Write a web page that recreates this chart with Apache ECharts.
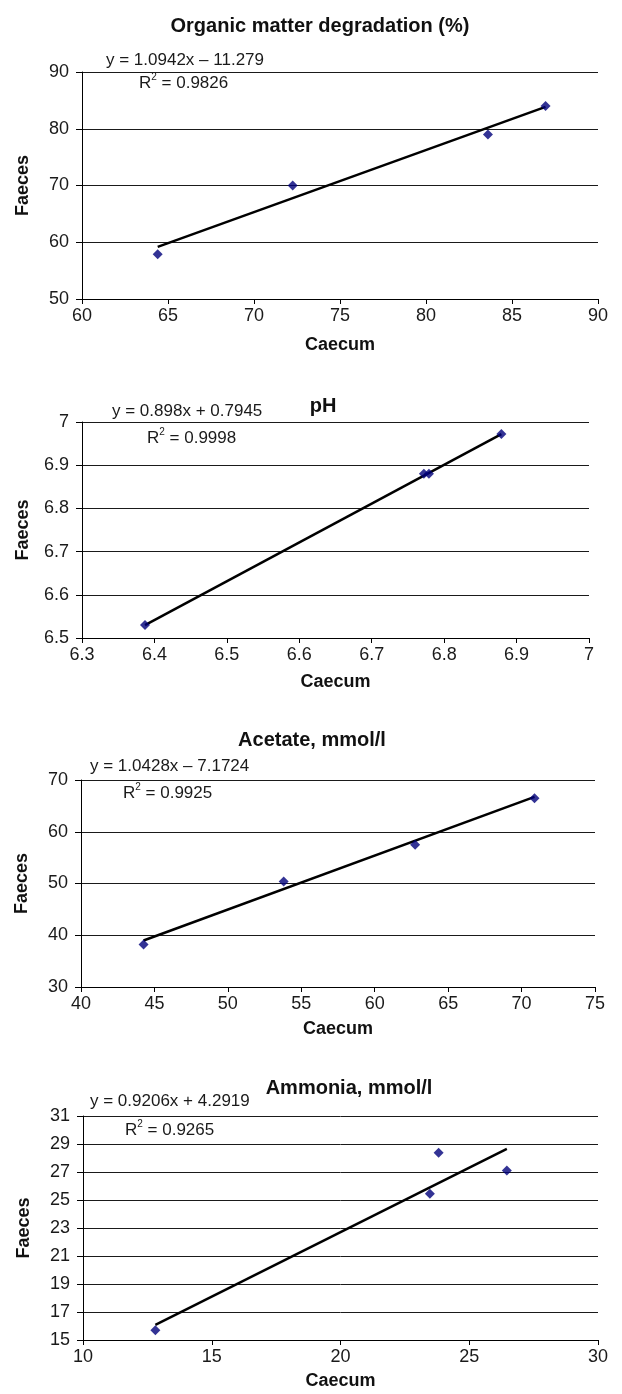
<!DOCTYPE html>
<html>
<head>
<meta charset="utf-8">
<script src="https://cdn.jsdelivr.net/npm/echarts@6/dist/echarts.min.js"></script>
<style>
html,body{margin:0;padding:0;background:#fff;}
#chart{width:622px;height:1394px;}
</style>
</head>
<body>
<div id="chart"></div>
<script>
// ---- Data ----
const titles = ['Organic matter degradation (%)', 'pH', 'Acetate, mmol/l', 'Ammonia, mmol/l'];
const omCaecum = [64.4, 72.25, 83.6, 86.95];
const omFaeces = [57.9, 70.0, 79.0, 84.0];
const phCaecum = [6.387, 6.772, 6.779, 6.879];
const phFaeces = [6.53, 6.88, 6.88, 6.972];
const acCaecum = [44.26, 53.8, 62.75, 70.88];
const acFaeces = [38.2, 50.4, 57.5, 66.45];
const amCaecum = [12.81, 23.47, 23.81, 26.46];
const amFaeces = [15.7, 25.44, 28.38, 27.1];
// trendline equations shown in the chart: y = slope * x + intercept
const slopes = [1.0942, 0.898, 1.0428, 0.9206];
const intercepts = [-11.279, 0.7945, -7.1724, 4.2919];
const equationLabels = ['y = 1.0942x \u2013 11.279', 'y = 0.898x + 0.7945', 'y = 1.0428x \u2013 7.1724', 'y = 0.9206x + 4.2919'];
const r2Values = ['0.9826', '0.9998', '0.9925', '0.9265'];
// axis ranges [min, max, interval]
const xRanges = [[60, 90, 5], [6.3, 7, 0.1], [40, 75, 5], [10, 30, 5]];
const yRanges = [[50, 90, 10], [6.5, 7, 0.1], [30, 70, 10], [15, 31, 2]];
const xAxisName = 'Caecum';
const yAxisName = 'Faeces';

// ---- Layout (positions only) ----
const FONT = '"Liberation Sans", Arial, sans-serif';
const grids = [
  {left: 82, top: 72, width: 516, height: 227},
  {left: 82, top: 422, width: 507, height: 216},
  {left: 81, top: 780, width: 514, height: 207},
  {left: 83, top: 1116, width: 515, height: 224}
];
const titlePos = [[315, 21], [318, 401], [307, 735], [344, 1083]];
const eqPos = [[106, 60], [112, 411], [90, 766], [90, 1101]];
const r2Pos = [[139, 82], [147, 437], [123, 792], [125, 1129]];
const xNameGap = [37, 35, 33, 32];

const xs = [omCaecum, phCaecum, acCaecum, amCaecum];
const ys = [omFaeces, phFaeces, acFaeces, amFaeces];

const option = {
  animation: false,
  backgroundColor: '#fff',
  textStyle: {fontFamily: FONT},
  title: [], grid: [], xAxis: [], yAxis: [], series: [], graphic: []
};

for (let i = 0; i < 4; i++) {
  option.title.push({
    text: titles[i], left: titlePos[i][0], top: titlePos[i][1],
    textAlign: 'center', textVerticalAlign: 'middle',
    textStyle: {fontFamily: FONT, fontSize: 20, fontWeight: 'bold', color: '#111'}
  });
  option.grid.push(Object.assign({containLabel: false}, grids[i]));
  option.xAxis.push({
    type: 'value', gridIndex: i,
    min: xRanges[i][0], max: xRanges[i][1], interval: xRanges[i][2],
    name: xAxisName, nameLocation: 'middle', nameGap: xNameGap[i],
    nameTextStyle: {fontFamily: FONT, fontSize: 18, fontWeight: 'bold', color: '#111'},
    axisLine: {show: true, onZero: false, lineStyle: {color: '#000', width: 1}},
    axisTick: {show: true, length: 5, lineStyle: {color: '#000'}},
    axisLabel: {fontFamily: FONT, fontSize: 18, color: '#1a1a1a', margin: 8},
    splitLine: {show: false}
  });
  option.yAxis.push({
    type: 'value', gridIndex: i,
    min: yRanges[i][0], max: yRanges[i][1], interval: yRanges[i][2],
    name: yAxisName, nameLocation: 'middle', nameRotate: 90, nameGap: 50,
    nameTextStyle: {fontFamily: FONT, fontSize: 18, fontWeight: 'bold', color: '#111'},
    axisLine: {show: true, onZero: false, lineStyle: {color: '#000', width: 1}},
    axisTick: {show: true, length: 6, lineStyle: {color: '#000'}},
    axisLabel: {fontFamily: FONT, fontSize: 18, color: '#1a1a1a', margin: 13},
    splitLine: {show: true, lineStyle: {color: '#1a1a1a', width: 1}}
  });
  const xmin = Math.min(...xs[i]), xmax = Math.max(...xs[i]);
  option.series.push({
    type: 'line', xAxisIndex: i, yAxisIndex: i,
    data: [[xmin, slopes[i] * xmin + intercepts[i]], [xmax, slopes[i] * xmax + intercepts[i]]],
    showSymbol: false, symbol: 'none',
    lineStyle: {color: '#000', width: 2.5}, z: 3
  });
  option.series.push({
    type: 'scatter', xAxisIndex: i, yAxisIndex: i,
    data: xs[i].map((x, k) => [x, ys[i][k]]),
    symbol: 'diamond', symbolSize: 10,
    itemStyle: {color: '#00007a'}, z: 4
  });
  option.graphic.push({
    type: 'text', x: eqPos[i][0], y: eqPos[i][1],
    style: {text: equationLabels[i], font: '17px ' + FONT, fill: '#1a1a1a', verticalAlign: 'middle'}
  });
  option.graphic.push({
    type: 'text', x: r2Pos[i][0], y: r2Pos[i][1],
    style: {
      text: '{n|R}{s|2}{n| = ' + r2Values[i] + '}',
      verticalAlign: 'middle',
      rich: {
        n: {fontFamily: FONT, fontSize: 17, fill: '#1a1a1a', color: '#1a1a1a', verticalAlign: 'bottom', lineHeight: 19},
        s: {fontFamily: FONT, fontSize: 10, fill: '#1a1a1a', color: '#1a1a1a', verticalAlign: 'top', lineHeight: 19}
      }
    }
  });
}

const chart = echarts.init(document.getElementById('chart'), null, {renderer: 'canvas'});
chart.setOption(option);
</script>
</body>
</html>
